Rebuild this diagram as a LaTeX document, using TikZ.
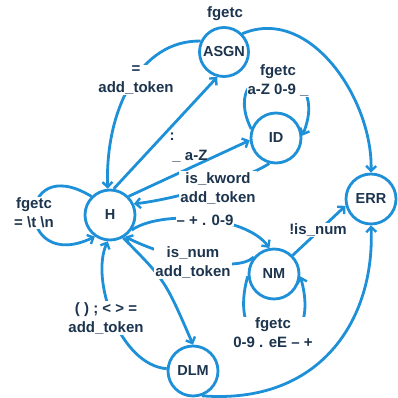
\documentclass[tikz,border=0pt]{standalone}
\usepackage{fontspec}
\setmainfont{Liberation Sans}
\usetikzlibrary{arrows.meta}
\definecolor{edgeblue}{RGB}{30,144,216}
\definecolor{textnavy}{RGB}{28,52,78}
\begin{document}
\begin{tikzpicture}[x=1pt,y=-1pt,
  state/.style={circle,draw=edgeblue,line width=2.8pt,minimum size=50pt,inner sep=0pt,fill=white,
    text=textnavy,font={\bfseries\fontsize{14.5}{17}\selectfont}},
  lab/.style={fill=white,inner sep=1pt,align=center,text=textnavy,
    font={\bfseries\fontsize{15}{19}\selectfont}},
  edge/.style={draw=edgeblue,line width=2.8pt},
  arr/.style={edge,-{Straight Barb[length=5pt,width=10pt,line width=2.4pt]}}]
\useasboundingbox (0,0) rectangle (397,398);

\node[state] (H) at (110,215) {H};
\node[state,minimum size=49pt] (ASGN) at (224,52) {ASGN};
\node[state] (ID) at (276,138) {ID};
\node[state] (ERR) at (371,199) {ERR};
\node[state] (NM) at (274,274) {NM};
\node[state] (DLM) at (193,371) {DLM};

% edges
\draw[arr] (H.82) -- (ASGN.255);
\draw[arr] (ASGN.155) .. controls (140,40) and (105,110) .. (H.95);
\draw[arr] (ASGN.45) .. controls (310,5) and (373,100) .. (ERR.90);
\draw[arr] (ID.160) .. controls (215,55) and (335,55) .. (ID.5);
\draw[arr] (H.45) -- (ID.185);
\draw[arr] (ID.255) .. controls (245,180) and (170,200) .. (H.25);
\draw[arr] (H.-35) .. controls (160,210) and (245,215) .. (NM.100);
\draw[arr] (NM.140) .. controls (235,275) and (160,255) .. (H.-55);
\draw[arr] (NM.185) .. controls (222,368) and (326,368) .. (NM.-5);
\draw[arr] (NM.45) -- (ERR.195);
\draw[arr] (DLM.-70) .. controls (320,405) and (375,320) .. (ERR.-90);
\draw[arr] (H.-60) .. controls (165,280) .. (DLM.90);
\draw[arr] (DLM.175) .. controls (120,365) and (90,280) .. (H.-95);
\draw[arr] (H.135) .. controls (15,150) and (15,275) .. (H.-125);

% labels
\node[lab] (lA) at (225,14) {fgetc};
\node[lab] (lB) at (136,80) {=\\add\_token};
\node[lab] (lC) at (278,80) {fgetc\\a-Z 0-9 \_};
\node[lab,fill=none] (lD) at (172,137) {:};
\node[lab,fill=none] (lE) at (190,156) {\_ a-Z};
\node[lab] (lF) at (218,188) {is\_kword\\add\_token};
\node[lab] (lG) at (205,220) {– + . 0-9};
\node[lab] (lH) at (34,213) {fgetc\\= \textbackslash t \textbackslash n};
\node[lab] (lI) at (318,230) {!is\_num};
\node[lab] (lJ) at (193,262) {is\_num\\add\_token};
\node[lab] (lK) at (106,318) {( ) ; < > =\\add\_token};
\node[lab] (lL) at (273,333) {fgetc\\0-9 . eE – +};
\end{tikzpicture}
\end{document}
